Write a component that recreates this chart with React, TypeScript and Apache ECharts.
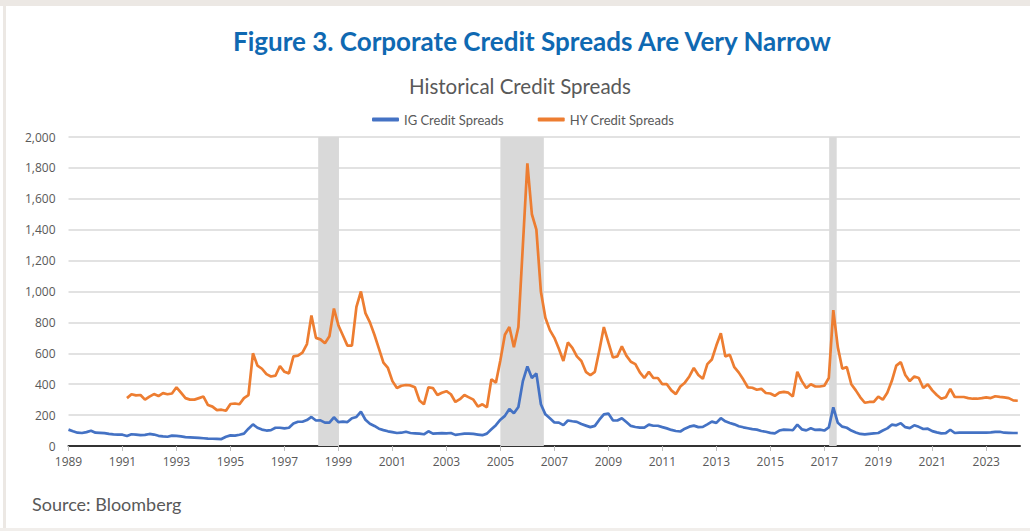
import React, { useEffect, useRef } from "react";
import * as echarts from "echarts";

// Bimonthly observations (Jan, Mar, May, Jul, Sep, Nov), axis years as labelled in the figure
const IG_START = 1989;
const HY_START = 1991;
const STEP = 1 / 6;

const igSpreads = [
  106, 95, 86, 84, 90, 99, // 1989
  86, 85, 83, 78, 75, 74, // 1990
  73, 65, 76, 74, 70, 72, // 1991
  78, 74, 66, 62, 60, 67, // 1992
  65, 62, 58, 56, 54, 52, // 1993
  50, 48, 47, 46, 45, 60, // 1994
  69, 67, 73, 80, 112, 140, // 1995
  118, 106, 100, 103, 118, 118, // 1996
  114, 118, 145, 157, 157, 168, // 1997
  188, 165, 166, 151, 151, 186, // 1998
  155, 158, 155, 180, 188, 222, // 1999
  170, 144, 130, 112, 103, 95, // 2000
  90, 84, 86, 92, 84, 82, // 2001
  80, 76, 95, 80, 82, 83, // 2002
  82, 84, 72, 76, 80, 80, // 2003
  78, 74, 70, 80, 108, 135, // 2004
  170, 195, 240, 212, 253, 420, // 2005
  515, 440, 470, 270, 205, 179, // 2006
  152, 151, 135, 165, 160, 156, // 2007
  142, 132, 122, 130, 170, 205, // 2008
  210, 166, 165, 180, 155, 130, // 2009
  123, 119, 119, 138, 131, 131, // 2010
  122, 114, 104, 97, 94, 112, // 2011
  125, 132, 122, 124, 140, 158, // 2012
  150, 180, 160, 149, 140, 128, // 2013
  121, 115, 109, 106, 97, 92, // 2014
  85, 82, 100, 106, 105, 102, // 2015
  138, 108, 101, 115, 104, 106, // 2016
  100, 120, 250, 150, 125, 118, // 2017
  100, 88, 78, 75, 79, 82, // 2018
  84, 100, 114, 138, 134, 148, // 2019
  122, 116, 134, 124, 110, 112, // 2020
  96, 88, 82, 83, 105, 84, // 2021
  86, 86, 86, 86, 86, 86, // 2022
  86, 88, 91, 92, 86, 85, // 2023
  84, 84, // 2024
];

const hySpreads = [
  null, 310, 335, 328, 330, 300, // 1991
  320, 336, 323, 342, 335, 340, // 1992
  380, 345, 310, 300, 300, 310, // 1993
  320, 265, 255, 232, 235, 228, // 1994
  272, 275, 270, 310, 330, 600, // 1995
  520, 500, 465, 450, 455, 518, // 1996
  480, 470, 580, 585, 605, 660, // 1997
  845, 700, 690, 665, 710, 890, // 1998
  780, 715, 650, 650, 900, 1000, // 1999
  860, 800, 720, 630, 540, 505, // 2000
  420, 375, 390, 395, 392, 380, // 2001
  295, 270, 380, 375, 330, 345, // 2002
  355, 335, 285, 303, 330, 315, // 2003
  300, 255, 270, 250, 432, 410, // 2004
  555, 720, 770, 640, 770, 1300, // 2005
  1830, 1500, 1400, 1000, 830, 750, // 2006
  700, 630, 550, 670, 635, 580, // 2007
  550, 480, 458, 480, 620, 770, // 2008
  670, 573, 580, 645, 585, 545, // 2009
  530, 476, 440, 480, 440, 440, // 2010
  400, 400, 360, 336, 385, 410, // 2011
  450, 505, 460, 435, 530, 560, // 2012
  650, 730, 580, 590, 510, 475, // 2013
  430, 380, 377, 364, 370, 343, // 2014
  340, 325, 345, 350, 345, 320, // 2015
  480, 420, 375, 400, 385, 385, // 2016
  390, 440, 880, 640, 500, 511, // 2017
  400, 360, 315, 280, 285, 285, // 2018
  320, 300, 345, 420, 520, 543, // 2019
  460, 420, 450, 440, 375, 400, // 2020
  360, 330, 306, 315, 370, 317, // 2021
  317, 317, 310, 306, 306, 310, // 2022
  315, 310, 322, 318, 315, 310, // 2023
  295, 293, // 2024
];

// Shaded periods [start, end] in axis years
const shadedPeriods: [number, number][] = [
  [1998.25, 1999.02],
  [2005.0, 2006.61],
  [2017.18, 2017.46],
];

const X_MIN = 1989;
const X_MAX = 2024.25;
const X_STEP = 2;
const Y_MAX = 2000;
const Y_STEP = 200;

const TITLE = "Figure 3. Corporate Credit Spreads Are Very Narrow";
const SUBTITLE = "Historical Credit Spreads";
const SOURCE = "Source: Bloomberg";
const SERIES_NAMES = ["IG Credit Spreads", "HY Credit Spreads"];

const toPairs = (start: number, arr: (number | null)[]) =>
  arr.map((v, i) => [start + i * STEP, v]);

export default function App() {
  const ref = useRef<HTMLDivElement>(null);

  useEffect(() => {
    if (!ref.current) return;
    const chart = echarts.init(ref.current, null, { renderer: "svg" });
    const grey = "#595959";
    chart.setOption({
      animation: false,
      title: [
        {
          text: TITLE,
          left: 228,
          top: 23,
          textStyle: {
            fontFamily: "Lato",
            fontWeight: "bold",
            fontSize: 26,
            color: "#0f69b2",
          },
        },
        {
          text: SUBTITLE,
          left: 404,
          top: 70,
          textStyle: {
            fontFamily: "Lato",
            fontWeight: "normal",
            fontSize: 20.5,
            color: grey,
          },
        },
      ],
      legend: {
        top: 108,
        left: 367,
        icon: "roundRect",
        itemWidth: 27,
        itemHeight: 4,
        itemGap: 34,
        textStyle: { fontFamily: "Lato", fontSize: 13, color: grey },
        data: SERIES_NAMES,
      },
      grid: { left: 68.5, right: 10, top: 137, bottom: 85 },
      xAxis: {
        type: "value",
        min: X_MIN,
        max: X_MAX,
        interval: X_STEP,
        axisLine: { lineStyle: { color: "#333333", width: 2 } },
        axisTick: { show: true, length: 5, lineStyle: { color: "#bfbfbf" } },
        splitLine: { show: false },
        axisLabel: {
          fontFamily: "Open Sans",
          fontSize: 12,
          color: grey,
          margin: 9,
          showMaxLabel: false,
          formatter: (v: number) => (Number.isInteger(v) ? String(v) : ""),
        },
      },
      yAxis: {
        type: "value",
        min: 0,
        max: Y_MAX,
        interval: Y_STEP,
        axisLine: { show: false },
        axisTick: { show: false },
        splitLine: { lineStyle: { color: "#d9d9d9", width: 1.5 } },
        axisLabel: {
          fontFamily: "Open Sans",
          fontSize: 12,
          color: grey,
          margin: 13,
          formatter: (v: number) => v.toLocaleString("en-US"),
        },
      },
      series: [
        {
          name: SERIES_NAMES[0],
          type: "line",
          data: toPairs(IG_START, igSpreads),
          showSymbol: false,
          symbol: "none",
          lineStyle: { color: "#4472c4", width: 2.7 },
          itemStyle: { color: "#4472c4" },
          z: 3,
          markArea: {
            silent: true,
            itemStyle: { color: "#d9d9d9" },
            data: shadedPeriods.map(([a, b]) => [{ xAxis: a }, { xAxis: b }]),
          },
        },
        {
          name: SERIES_NAMES[1],
          type: "line",
          data: toPairs(HY_START, hySpreads),
          showSymbol: false,
          symbol: "none",
          connectNulls: false,
          lineStyle: { color: "#ed7d31", width: 2.7 },
          itemStyle: { color: "#ed7d31" },
          z: 4,
        },
      ],
      graphic: [
        {
          type: "text",
          left: 32,
          top: 495,
          style: {
            text: SOURCE,
            fontFamily: "Lato",
            fontSize: 18,
            fill: grey,
          },
        },
      ],
    });
    return () => chart.dispose();
  }, []);

  return (
    <div
      style={{
        position: "fixed",
        left: 0,
        top: 0,
        width: 1030,
        height: 531,
        background: "#ffffff",
        overflow: "hidden",
      }}
    >
      <div
        style={{
          position: "absolute",
          left: 0,
          top: 0,
          width: 1030,
          height: 6,
          background: "#ece8e4",
        }}
      />
      <div
        style={{
          position: "absolute",
          left: 3,
          top: 0,
          width: 3,
          height: 531,
          background: "#ece8e4",
        }}
      />
      <div
        style={{
          position: "absolute",
          left: 0,
          top: 528,
          width: 1030,
          height: 3,
          background: "#f1eeeb",
        }}
      />
      <div ref={ref} style={{ position: "absolute", left: 0, top: 0, width: 1030, height: 531 }} />
    </div>
  );
}
